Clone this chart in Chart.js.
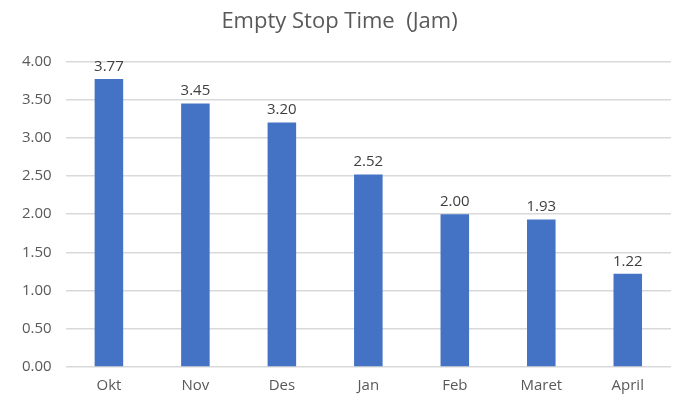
<!DOCTYPE html>
<html>
<head>
<meta charset="utf-8">
<script src="https://cdn.jsdelivr.net/npm/chart.js@4"></script>
<style>
  body { margin: 0; background: #fff; }
  #wrap { width: 673px; height: 397px; }
</style>
</head>
<body>
<div id="wrap"><canvas id="chartCanvas" width="673" height="397"></canvas></div>
<script>
const months = ['Okt', 'Nov', 'Des', 'Jan', 'Feb', 'Maret', 'April'];
const stopHours = [3.77, 3.45, 3.20, 2.52, 2.00, 1.93, 1.22];

const fontFamily = '"Open Sans", "Noto Sans", sans-serif';

// labels above bars (no datalabels plugin available offline)
const valueLabels = {
  id: 'valueLabels',
  afterDatasetsDraw(chart) {
    const ctx = chart.ctx;
    const meta = chart.getDatasetMeta(0);
    ctx.save();
    ctx.font = '15px ' + fontFamily;
    ctx.fillStyle = '#404040';
    ctx.textAlign = 'center';
    ctx.textBaseline = 'bottom';
    meta.data.forEach((bar, i) => {
      ctx.fillText(stopHours[i].toFixed(2), bar.x, bar.y - 5);
    });
    ctx.restore();
  }
};

const ctx = document.getElementById('chartCanvas').getContext('2d');
new Chart(ctx, {
  type: 'bar',
  data: {
    labels: months,
    datasets: [{
      data: stopHours,
      backgroundColor: '#4472C4',
      barPercentage: 0.33,
      categoryPercentage: 1
    }]
  },
  options: {
    responsive: false,
    animation: false,
    layout: { padding: { top: 9, right: 2, left: 8, bottom: 0 } },
    plugins: {
      legend: { display: false },
      tooltip: { enabled: false },
      title: {
        display: true,
        text: 'Empty Stop Time  (Jam)',
        color: '#595959',
        font: { family: fontFamily, size: 22, weight: 'normal' },
        padding: { top: 0, bottom: 26 }
      }
    },
    scales: {
      x: {
        grid: { display: false },
        border: { display: false },
        ticks: { color: '#595959', font: { family: fontFamily, size: 15 }, padding: 2 }
      },
      y: {
        min: 0,
        max: 4,
        grid: { color: '#d9d9d9', lineWidth: 1.5, drawTicks: false },
        border: { display: false },
        ticks: {
          stepSize: 0.5,
          padding: 14,
          color: '#595959',
          font: { family: fontFamily, size: 15 },
          callback: v => v.toFixed(2)
        }
      }
    }
  },
  plugins: [valueLabels]
});
</script>
</body>
</html>
